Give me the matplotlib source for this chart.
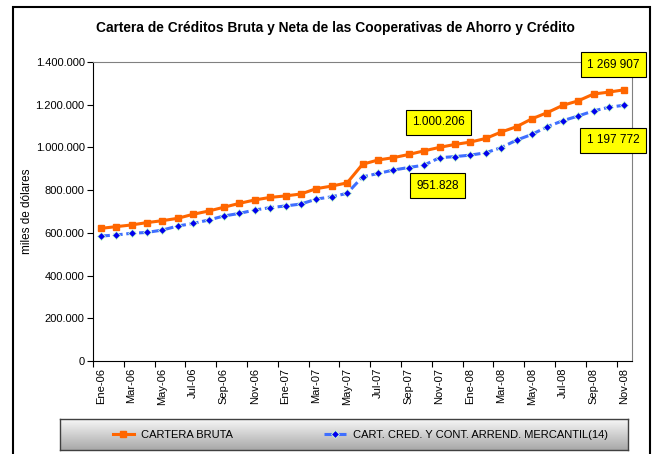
import numpy as np
import matplotlib
matplotlib.use("Agg")
import matplotlib.pyplot as plt
import matplotlib.patches as patches
from matplotlib.ticker import FuncFormatter, FixedLocator

plt.rcParams['font.family'] = ['Liberation Sans', 'DejaVu Sans']

# datos (dolares), Ene-06 .. Nov-08
meses = ['Ene-06', 'Feb-06', 'Mar-06', 'Abr-06', 'May-06', 'Jun-06', 'Jul-06', 'Ago-06',
         'Sep-06', 'Oct-06', 'Nov-06', 'Dic-06', 'Ene-07', 'Feb-07', 'Mar-07', 'Abr-07',
         'May-07', 'Jun-07', 'Jul-07', 'Ago-07', 'Sep-07', 'Oct-07', 'Nov-07', 'Dic-07',
         'Ene-08', 'Feb-08', 'Mar-08', 'Abr-08', 'May-08', 'Jun-08', 'Jul-08', 'Ago-08',
         'Sep-08', 'Oct-08', 'Nov-08']
cartera_bruta = [621000, 629000, 637000, 648000, 657000, 668000, 687000, 702000,
                 720000, 738000, 754000, 766000, 773000, 782000, 807000, 819000,
                 834000, 921000, 941000, 952000, 967000, 984000, 1000206, 1014000,
                 1025000, 1042000, 1072000, 1097000, 1134000, 1163000, 1197000, 1218000,
                 1250000, 1259000, 1269907]
cartera_neta = [585000, 590000, 598000, 602000, 613000, 632000, 644000, 660000,
                679000, 691000, 707000, 718000, 726000, 735000, 758000, 769000,
                785000, 862000, 878000, 894000, 906000, 917000, 951828, 957000,
                964000, 975000, 999000, 1034000, 1061000, 1097000, 1125000, 1147000,
                1171000, 1188000, 1197772]

etiq_bruta = ['1.000.206', '1 269 907']
etiq_neta = ['951.828', '1 197 772']
idx_etiq = [22, 34]

fig = plt.figure(figsize=(6.56, 4.54), dpi=100)

# marco exterior
fig.patches.append(patches.Rectangle((13/656, -0.05), (650-13)/656, 1.05 - 7/454,
                                     transform=fig.transFigure, fill=False,
                                     edgecolor='black', linewidth=1.5))

ax = fig.add_axes([93/656, 93/454, (632-93)/656, (361-62)/454])
x = np.arange(len(meses))

ax.plot(x, cartera_bruta, color='#FF6600', linewidth=2.2, marker='s', markersize=5,
        label='CARTERA BRUTA')
ax.plot(x, cartera_neta, color='#3F6FFF', linewidth=2.2, linestyle=(0, (3, 1.2)),
        marker='D', markersize=4.5, markerfacecolor='#0000EE',
        markeredgecolor='#CCFFCC', markeredgewidth=0.6,
        label='CART. CRED. Y CONT. ARREND. MERCANTIL(14)')

ax.set_xlim(-0.5, len(meses) - 0.5)
ax.set_ylim(0, 1400000)
ax.set_yticks(np.arange(0, 1400001, 200000))
ax.yaxis.set_major_formatter(FuncFormatter(lambda v, p: f"{int(v):,}".replace(',', '.')))

# etiquetas cada dos meses, marcas en los bordes de categoria
ax.set_xticks(x[::2])
ax.set_xticklabels(meses[::2], rotation=90, fontsize=8)
ax.tick_params(axis='x', which='major', length=0, pad=5)
ax.xaxis.set_minor_locator(FixedLocator(np.arange(-0.5, len(meses), 2)))
ax.tick_params(axis='x', which='minor', direction='out', length=4, width=0.8)
ax.tick_params(axis='y', direction='out', length=4, width=0.8, labelsize=8, pad=2)

ax.spines['top'].set_color('#808080')
ax.spines['right'].set_color('#808080')
for s in ax.spines.values():
    s.set_linewidth(0.8)

ax.set_ylabel('miles de dólares', fontsize=8.5, labelpad=2)

# cuadros amarillos
caja = dict(boxstyle='square,pad=0.55', facecolor='#FFFF00', edgecolor='black', linewidth=0.8)
desp_bruta = [(-1, 25), (-11, 25)]
desp_neta = [(-2, -28), (-11, -35)]
for i, t, d in zip(idx_etiq, etiq_bruta, desp_bruta):
    ax.annotate(t, (x[i], cartera_bruta[i]), xytext=d, textcoords='offset pixels',
                ha='center', va='center', fontsize=8.5, bbox=caja, annotation_clip=False)
for i, t, d in zip(idx_etiq, etiq_neta, desp_neta):
    ax.annotate(t, (x[i], cartera_neta[i]), xytext=d, textcoords='offset pixels',
                ha='center', va='center', fontsize=8.5, bbox=caja, annotation_clip=False)

fig.text(0.512, 0.938, 'Cartera de Créditos Bruta y Neta de las Cooperativas de Ahorro y Crédito',
         ha='center', va='center', fontsize=9.9, fontweight='bold')

# leyenda con fondo degradado
lax = fig.add_axes([60/656, 4/454, (628-60)/656, 31/454])
grad = np.linspace(0, 1, 100).reshape(-1, 1)
lax.imshow(grad, cmap=matplotlib.colors.LinearSegmentedColormap.from_list('g', ['#F7F7F7', '#A8A8A8']),
           aspect='auto', extent=(0, 1, 0, 1))
lax.set_xticks([])
lax.set_yticks([])
for s in lax.spines.values():
    s.set_color('#404040')
    s.set_linewidth(1)
h, l = ax.get_legend_handles_labels()
lax.legend(h, l, ncol=2, loc='center left', bbox_to_anchor=(0.075, 0.5), frameon=False,
           fontsize=8, columnspacing=8.2, handlelength=1.9, handletextpad=0.7)

fig.savefig('out.png', dpi=100)
